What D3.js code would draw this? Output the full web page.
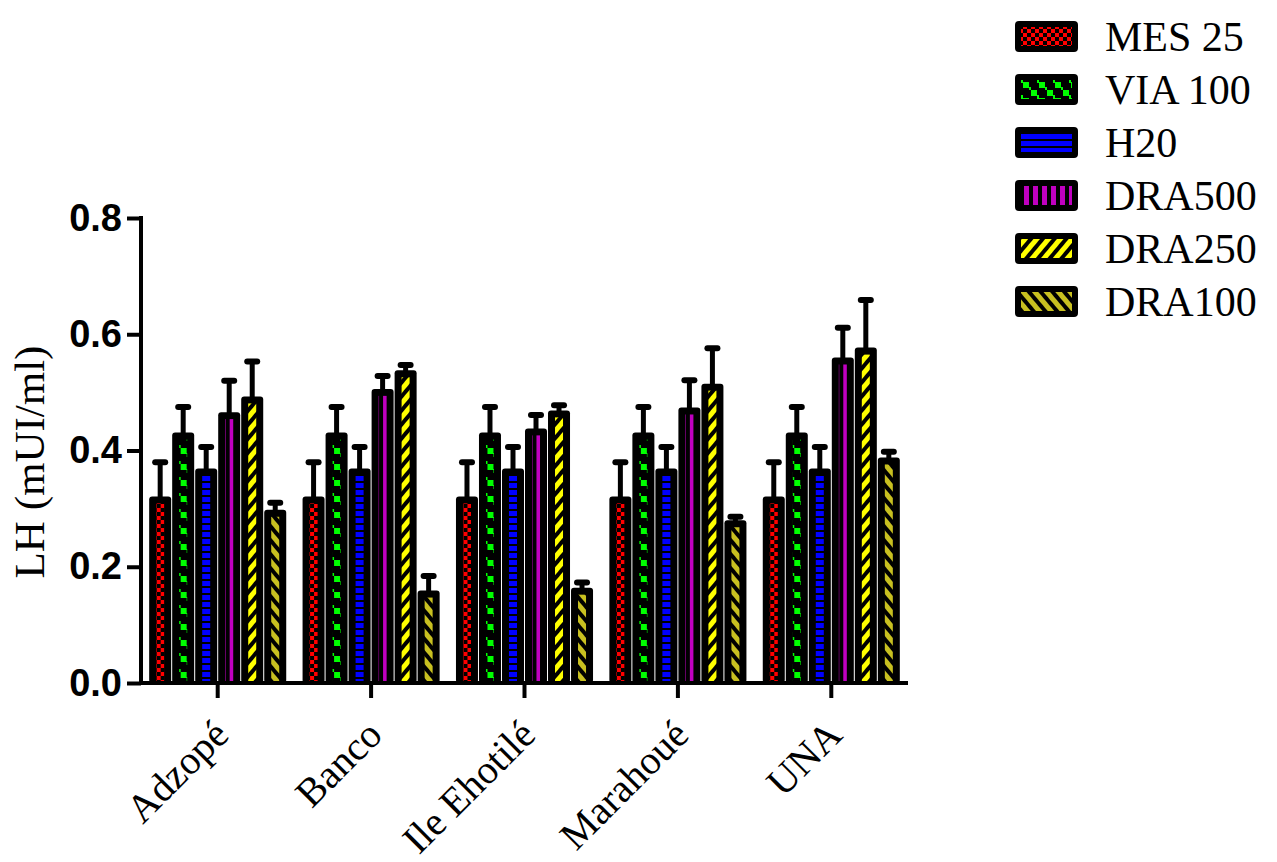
<!DOCTYPE html>
<html>
<head>
<meta charset="utf-8">
<script src="https://cdn.jsdelivr.net/npm/d3@7"></script>
<style>
  body { margin: 0; background: #fff; }
</style>
</head>
<body>
<div id="chart"></div>
<script>
var categories = ["Adzopé", "Banco", "Ile Ehotilé", "Marahoué", "UNA"];
var series = ["MES 25", "VIA 100", "H20", "DRA500", "DRA250", "DRA100"];

// mean values per series, one per category
var mes25  = [0.315, 0.315, 0.315, 0.315, 0.315];
var via100 = [0.425, 0.425, 0.425, 0.425, 0.425];
var h20    = [0.363, 0.363, 0.363, 0.363, 0.363];
var dra500 = [0.460, 0.500, 0.432, 0.468, 0.554];
var dra250 = [0.487, 0.532, 0.463, 0.509, 0.571];
var dra100 = [0.292, 0.153, 0.158, 0.274, 0.382];

// error (upper part only)
var mes25Err  = [0.065, 0.065, 0.065, 0.065, 0.065];
var via100Err = [0.050, 0.050, 0.050, 0.050, 0.050];
var h20Err    = [0.043, 0.043, 0.043, 0.043, 0.043];
var dra500Err = [0.060, 0.028, 0.029, 0.053, 0.057];
var dra250Err = [0.066, 0.015, 0.015, 0.067, 0.088];
var dra100Err = [0.018, 0.031, 0.015, 0.012, 0.016];

var yTicks = [0, 0.2, 0.4, 0.6, 0.8];

var values = [mes25, via100, h20, dra500, dra250, dra100];
var errors = [mes25Err, via100Err, h20Err, dra500Err, dra250Err, dra100Err];

var data = categories.map(function(c, i) {
    return {
        cat: c,
        bars: series.map(function(s, j) {
            return {key: s, idx: j, value: values[j][i], err: errors[j][i]};
        })
    };
});

var width = 1277, height = 862;
var margin = {top: 218, left: 141, right: 369, bottom: 179};
var innerH = height - margin.top - margin.bottom;

var svg = d3.select("#chart").append("svg")
    .attr("width", width)
    .attr("height", height);

// patterns
var defs = svg.append("defs");
function pat(id, w, h, bg, shapes, transform) {
    var p = defs.append("pattern")
        .attr("id", id)
        .attr("patternUnits", "userSpaceOnUse")
        .attr("width", w)
        .attr("height", h);
    if (transform) p.attr("patternTransform", transform);
    p.append("rect").attr("width", w).attr("height", h).attr("fill", bg);
    shapes.forEach(function(s) {
        p.append("rect")
            .attr("x", s[0]).attr("y", s[1])
            .attr("width", s[2]).attr("height", s[3])
            .attr("fill", s[4]);
    });
}
pat("p0", 8, 8, "#ff0000", [[0, 0, 4, 4, "#000"], [4, 4, 4, 4, "#000"]]);
pat("p1", 16, 16, "#000", [[0, 0, 6, 6, "#00ff00"], [8, 8, 6, 6, "#00ff00"], [6, 5, 2, 4, "#00ff00"], [14, 13, 2, 4, "#00ff00"]]);
pat("p2", 8, 7, "#0000ff", [[0, 5, 8, 2, "#000"]]);
pat("p3", 9, 8, "#c000c0", [[5, 0, 4, 8, "#000"]]);
pat("p4", 9, 9, "#000", [[0, 0, 5, 9, "#ffff00"]], "rotate(40)");
pat("p5", 9, 9, "#000", [[0, 0, 5, 9, "#c8c020"]], "rotate(-40)");

var x0 = d3.scaleBand()
    .domain(categories)
    .range([margin.left, 908])
    .paddingInner(0.1)
    .paddingOuter(0.05);

var x1 = d3.scaleBand()
    .domain(series)
    .range([0, x0.bandwidth()]);

var y = d3.scaleLinear()
    .domain([0, 0.8])
    .range([margin.top + innerH, margin.top]);

var base = y(0);
var border = 7;

// bars
var groups = svg.selectAll("g.group")
    .data(data)
    .enter()
    .append("g")
    .attr("class", "group")
    .attr("transform", function(d) { return "translate(" + x0(d.cat) + ",0)"; });

var bar = groups.selectAll("g.bar")
    .data(function(d) { return d.bars; })
    .enter()
    .append("g")
    .attr("class", "bar");

// error bars first (drawn behind the bar top)
bar.append("line")
    .attr("x1", function(d) { return x1(d.key) + x1.bandwidth() / 2; })
    .attr("x2", function(d) { return x1(d.key) + x1.bandwidth() / 2; })
    .attr("y1", function(d) { return y(d.value); })
    .attr("y2", function(d) { return y(d.value + d.err); })
    .attr("stroke", "#000")
    .attr("stroke-width", 5);

bar.append("line")
    .attr("x1", function(d) { return x1(d.key) + x1.bandwidth() / 2 - 5; })
    .attr("x2", function(d) { return x1(d.key) + x1.bandwidth() / 2 + 5; })
    .attr("y1", function(d) { return y(d.value + d.err); })
    .attr("y2", function(d) { return y(d.value + d.err); })
    .attr("stroke", "#000")
    .attr("stroke-width", 6)
    .attr("stroke-linecap", "round");

bar.append("rect")
    .attr("x", function(d) { return x1(d.key) + 0.5; })
    .attr("y", function(d) { return y(d.value) - border / 2; })
    .attr("width", x1.bandwidth() - 1)
    .attr("height", function(d) { return base - y(d.value) + border / 2; })
    .attr("rx", 3)
    .attr("fill", "#000");

bar.append("rect")
    .attr("x", function(d) { return x1(d.key) + 0.5 + border; })
    .attr("y", function(d) { return y(d.value) + border / 2; })
    .attr("width", x1.bandwidth() - 1 - 2 * border)
    .attr("height", function(d) { return Math.max(0, base - y(d.value) - border / 2); })
    .attr("fill", function(d) { return "url(#p" + d.idx + ")"; });

// y axis
var yAxis = svg.append("g")
    .attr("transform", "translate(" + margin.left + ",0)")
    .call(d3.axisLeft(y)
        .tickValues(yTicks)
        .tickFormat(d3.format(".1f"))
        .tickSize(14)
        .tickSizeOuter(0)
        .tickPadding(5));
yAxis.select(".domain").attr("stroke-width", 4).attr("d", "M0," + (y(0.8) - 2) + "V" + (base + 2));
yAxis.selectAll(".tick line").attr("stroke-width", 4);
yAxis.selectAll(".tick text")
    .style("font-family", "'Liberation Sans', Arial, sans-serif")
    .style("font-weight", "bold")
    .style("font-size", "38px")
    .attr("fill", "#000");

// x axis
var xAxis = svg.append("g")
    .attr("transform", "translate(0," + base + ")")
    .call(d3.axisBottom(x0).tickSize(15).tickSizeOuter(0));
xAxis.select(".domain").attr("stroke-width", 4).attr("d", "M" + (margin.left - 2) + ",0H908");
xAxis.selectAll(".tick line").attr("stroke-width", 4);
xAxis.selectAll(".tick text")
    .attr("x", 13)
    .attr("y", 54)
    .attr("dy", 0)
    .attr("transform", "rotate(-45, 13, 54)")
    .style("text-anchor", "end")
    .style("font-family", "'Liberation Serif', 'Times New Roman', serif")
    .style("font-size", "40px")
    .attr("fill", "#000");

// y axis label
svg.append("text")
    .attr("transform", "translate(44,462) rotate(-90)")
    .style("text-anchor", "middle")
    .style("font-family", "'Liberation Serif', 'Times New Roman', serif")
    .style("font-size", "43px")
    .text("LH (mUI/ml)");

// legend
var legend = svg.selectAll("g.legend")
    .data(series)
    .enter()
    .append("g")
    .attr("class", "legend")
    .attr("transform", function(d, i) { return "translate(1015," + (21 + i * 53) + ")"; });

legend.append("rect")
    .attr("width", 63)
    .attr("height", 31)
    .attr("rx", 4)
    .attr("fill", "#000");

legend.append("rect")
    .attr("x", 6)
    .attr("y", 6)
    .attr("width", 51)
    .attr("height", 19)
    .attr("fill", function(d, i) { return "url(#p" + i + ")"; });

legend.append("text")
    .attr("x", 90)
    .attr("y", 30)
    .style("font-family", "'Liberation Serif', 'Times New Roman', serif")
    .style("font-size", "42px")
    .text(function(d) { return d; });
</script>
</body>
</html>
